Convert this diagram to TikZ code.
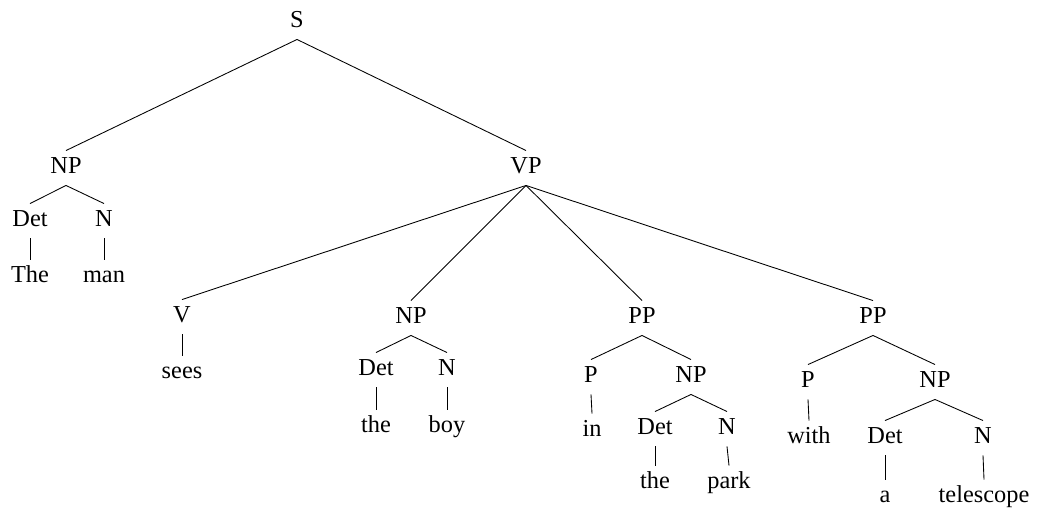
\documentclass[tikz,border=0pt]{standalone}
\usepackage{fontspec}
\setmainfont{Liberation Serif}
\usetikzlibrary{positioning}
\tikzstyle{cat}=[anchor=base,text height=6.8pt,text depth=2.2pt,inner sep=3.33pt]
\tikzstyle{every node}=[font=\fontsize{11.2}{13}\selectfont]

\begin{document}
\begin{tikzpicture}[x=0.46pt,y=-0.46pt]
  \useasboundingbox (0,0) rectangle (1039,508);
  \node[cat] (S) at (297,27) {S};
  % subject
  \node[cat] (NPa) at (66,173) {NP};
  \node[cat] (Deta) at (30,226) {Det};
  \node[cat] (Na) at (104,226) {N};
  \node[cat] (The) at (30,282) {The};
  \node[cat] (man) at (104,282) {man};
  % predicate
  \node[cat] (VP) at (526,173) {VP};
  \node[cat] (V) at (182,322) {V};
  \node[cat] (sees) at (182,378) {sees};
  \node[cat] (NPb) at (411,323) {NP};
  \node[cat] (Detb) at (376,375) {Det};
  \node[cat] (Nb) at (447,375) {N};
  \node[cat] (theb) at (376,432) {the};
  \node[cat] (boy) at (447,432) {boy};
  \node[cat] (PPa) at (642,323) {PP};
  \node[cat] (Pa) at (591,382) {P};
  \node[cat] (in) at (592,436) {in};
  \node[cat] (NPc) at (691,382) {NP};
  \node[cat] (Detc) at (655,434) {Det};
  \node[cat] (Nc) at (727,434) {N};
  \node[cat] (thec) at (655,488) {the};
  \node[cat] (park) at (729,488) {park};
  \node[cat] (PPb) at (873,323) {PP};
  \node[cat] (Pb) at (808,387) {P};
  \node[cat] (with) at (809,443) {with};
  \node[cat] (NPd) at (935,387) {NP};
  \node[cat] (Detd) at (885,443) {Det};
  \node[cat] (Nd) at (983,443) {N};
  \node[cat] (a) at (885,502) {a};
  \node[cat] (telescope) at (984,502) {telescope};
  \foreach \p/\c in {S/NPa,S/VP,NPa/Deta,NPa/Na,Deta/The,Na/man,
      VP/V,VP/NPb,VP/PPa,VP/PPb,V/sees,NPb/Detb,NPb/Nb,Detb/theb,Nb/boy,
      PPa/Pa,PPa/NPc,Pa/in,NPc/Detc,NPc/Nc,Detc/thec,Nc/park,
      PPb/Pb,PPb/NPd,Pb/with,NPd/Detd,NPd/Nd,Detd/a,Nd/telescope}
    \draw (\p.south) -- (\c.north);
\end{tikzpicture}
\end{document}
